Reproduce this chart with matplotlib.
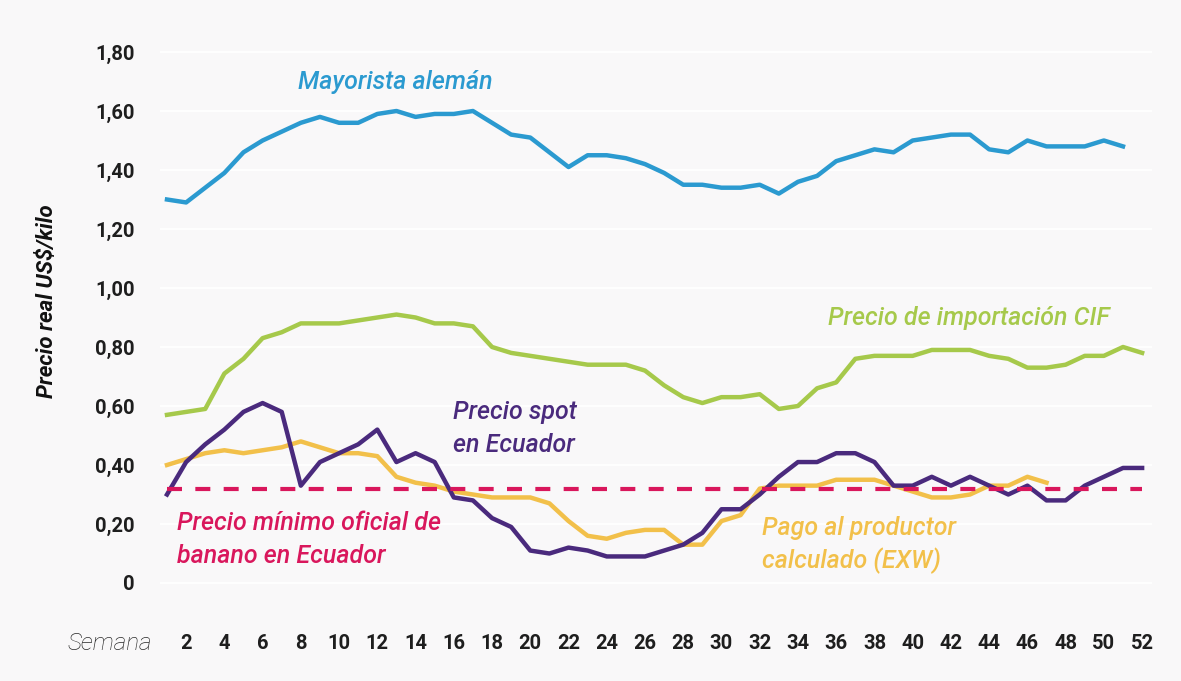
import numpy as np
import matplotlib.pyplot as plt

# weekly real prices, US$/kilo
weeks = np.arange(1, 53)

mayorista = [1.30, 1.29, 1.34, 1.39, 1.46, 1.50, 1.53, 1.56, 1.58, 1.56,
             1.56, 1.59, 1.60, 1.58, 1.59, 1.59, 1.60, 1.56, 1.52, 1.51,
             1.46, 1.41, 1.45, 1.45, 1.44, 1.42, 1.39, 1.35, 1.35, 1.34,
             1.34, 1.35, 1.32, 1.36, 1.38, 1.43, 1.45, 1.47, 1.46, 1.50,
             1.51, 1.52, 1.52, 1.47, 1.46, 1.50, 1.48, 1.48, 1.48, 1.50, 1.48]

cif = [0.57, 0.58, 0.59, 0.71, 0.76, 0.83, 0.85, 0.88, 0.88, 0.88,
       0.89, 0.90, 0.91, 0.90, 0.88, 0.88, 0.87, 0.80, 0.78, 0.77,
       0.76, 0.75, 0.74, 0.74, 0.74, 0.72, 0.67, 0.63, 0.61, 0.63,
       0.63, 0.64, 0.59, 0.60, 0.66, 0.68, 0.76, 0.77, 0.77, 0.77,
       0.79, 0.79, 0.79, 0.77, 0.76, 0.73, 0.73, 0.74, 0.77, 0.77, 0.80, 0.78]

spot = [0.30, 0.41, 0.47, 0.52, 0.58, 0.61, 0.58, 0.33, 0.41, 0.44,
        0.47, 0.52, 0.41, 0.44, 0.41, 0.29, 0.28, 0.22, 0.19, 0.11,
        0.10, 0.12, 0.11, 0.09, 0.09, 0.09, 0.11, 0.13, 0.17, 0.25,
        0.25, 0.30, 0.36, 0.41, 0.41, 0.44, 0.44, 0.41, 0.33, 0.33,
        0.36, 0.33, 0.36, 0.33, 0.30, 0.33, 0.28, 0.28, 0.33, 0.36, 0.39, 0.39]

exw = [0.40, 0.42, 0.44, 0.45, 0.44, 0.45, 0.46, 0.48, 0.46, 0.44,
       0.44, 0.43, 0.36, 0.34, 0.33, 0.31, 0.30, 0.29, 0.29, 0.29,
       0.27, 0.21, 0.16, 0.15, 0.17, 0.18, 0.18, 0.13, 0.13, 0.21,
       0.23, 0.32, 0.33, 0.33, 0.33, 0.35, 0.35, 0.35, 0.33, 0.31,
       0.29, 0.29, 0.30, 0.33, 0.33, 0.36, 0.34]

precio_minimo = 0.32

yticks = [0, 0.2, 0.4, 0.6, 0.8, 1.0, 1.2, 1.4, 1.6, 1.8]
ytick_labels = ['0', '0,20', '0,40', '0,60', '0,80', '1,00', '1,20', '1,40', '1,60', '1,80']
xticks = list(range(2, 53, 2))

c_blue = '#2b9ad0'
c_green = '#a6c94b'
c_purple = '#4a2a7d'
c_yellow = '#f2c04a'
c_red = '#d9175c'
bg = '#f9f8f9'

plt.rcParams['font.family'] = ['Roboto', 'DejaVu Sans']

fig = plt.figure(figsize=(11.81, 6.81), dpi=100, facecolor=bg)
ax = fig.add_axes([160 / 1181, 1 - 610 / 681, (1152 - 160) / 1181, (610 - 40) / 681])
ax.set_facecolor(bg)

ax.plot(weeks[:len(mayorista)], mayorista, color=c_blue, lw=3.2)
ax.plot(weeks, cif, color=c_green, lw=3.2)
ax.plot(weeks[:len(exw)], exw, color=c_yellow, lw=3.2)
ax.plot(weeks, spot, color=c_purple, lw=3.2)
ax.plot([weeks[0], weeks[-1]], [precio_minimo, precio_minimo], color=c_red,
        lw=3.0, dashes=(3.6, 3.2))

ax.set_xlim(0.634, 1 + (1152 - 167) / 19.12)
ax.set_ylim((583 - 610) / 295, (583 - 40) / 295)

ax.set_yticks(yticks)
ax.set_yticklabels(ytick_labels)
ax.set_xticks(xticks)
ax.set_xticklabels([str(t) for t in xticks])
ax.tick_params(length=0, labelsize=14.5, labelcolor='#1e1e1e')
ax.tick_params(axis='y', pad=18)
ax.tick_params(axis='x', pad=17)
for lab in ax.get_xticklabels() + ax.get_yticklabels():
    lab.set_fontweight('semibold')

ax.grid(axis='y', color='white', lw=1.3)
ax.set_axisbelow(True)
for s in ax.spines.values():
    s.set_visible(False)

fig.text(47 / 1181, 1 - 301 / 681, 'Precio real US$/kilo', rotation=90,
         ha='center', va='center', fontsize=16, style='italic',
         fontweight='semibold', color='#111111')
fig.text(110 / 1181, 1 - 643 / 681, 'Semana', ha='center', va='center',
         fontsize=17.5, style='italic', fontweight='light', color='#2a2a2a')

lab = dict(style='italic', fontweight='medium', fontsize=18, va='center', ha='left')
ax.text(7.85, 1.70, 'Mayorista alemán', color=c_blue, **lab)
ax.text(35.57, 0.898, 'Precio de importación CIF', color=c_green, **lab)
ax.text(15.96, 0.58, 'Precio spot', color=c_purple, **lab)
ax.text(15.96, 0.468, 'en Ecuador', color=c_purple, **lab)
ax.text(1.52, 0.203, 'Precio mínimo oficial de', color=c_red, **lab)
ax.text(1.52, 0.092, 'banano en Ecuador', color=c_red, **lab)
ax.text(32.1, 0.186, 'Pago al productor', color=c_yellow, **lab)
ax.text(32.1, 0.075, 'calculado (EXW)', color=c_yellow, **lab)

fig.savefig('out.png', dpi=100, facecolor=bg)
